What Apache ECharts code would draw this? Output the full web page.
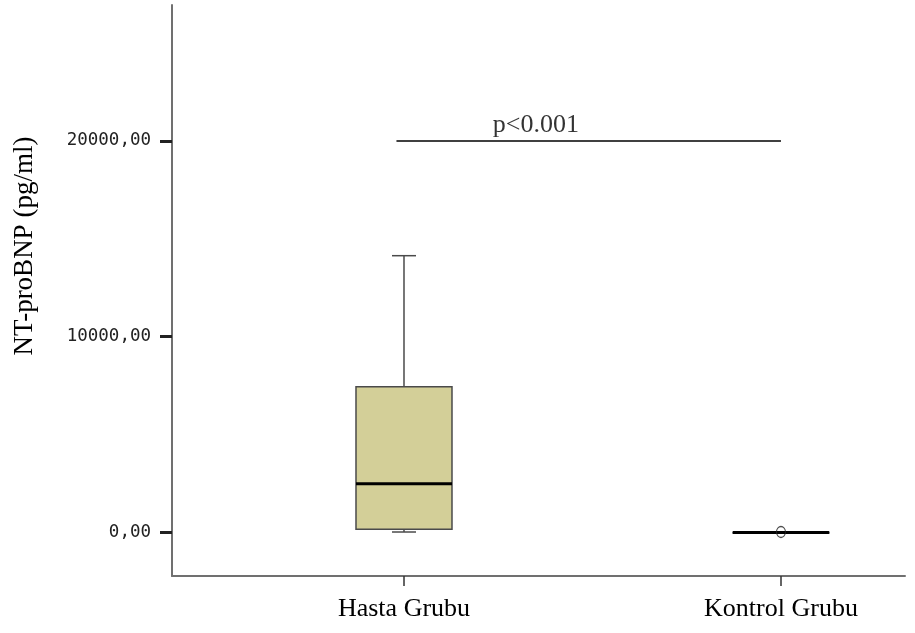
<!DOCTYPE html>
<html>
<head>
<meta charset="utf-8">
<script src="https://cdn.jsdelivr.net/npm/echarts@6/dist/echarts.min.js"></script>
<style>
  html, body { margin: 0; padding: 0; background: #fff; }
  #chart { width: 915px; height: 633px; }
</style>
</head>
<body>
<div id="chart"></div>
<script>
// groups on the x axis (positions 1 and 2)
const categories = ['Hasta Grubu', 'Kontrol Grubu'];
const groupPos = [1, 2];
// [min, Q1, median, Q3, max] per group
const boxStats = [
  [0, 140, 2470, 7430, 14130],
  [-60, -50, -30, -10, 0]
];
// outliers: [group position, value]
const outliers = [[2, 0]];
// significance bar
const pText = 'p<0.001';
const pBar = [[0.98, 20000], [2, 20000]];
const pTextAt = [1.35, 20000];
const yTicks = [0, 10000, 20000];

const chart = echarts.init(document.getElementById('chart'), null, { renderer: 'canvas' });

const boxData = boxStats.map((s, i) => [groupPos[i]].concat(s));

const option = {
  animation: false,
  backgroundColor: '#fff',
  grid: { left: 172, right: 10, top: 5, bottom: 57, containLabel: false },
  xAxis: {
    type: 'value',
    min: 0.3846,
    max: 2.329,
    splitLine: { show: false },
    axisLine: { onZero: false, lineStyle: { color: '#707070', width: 2 } },
    axisTick: {
      customValues: groupPos,
      length: 10,
      lineStyle: { color: '#333', width: 1.5 }
    },
    axisLabel: {
      customValues: groupPos,
      formatter: v => categories[groupPos.indexOf(v)] || '',
      margin: 20,
      color: '#000',
      fontFamily: 'Liberation Serif',
      fontSize: 26
    }
  },
  yAxis: {
    type: 'value',
    min: -2250,
    max: 26950,
    splitLine: { show: false },
    axisLine: { show: true, onZero: false, lineStyle: { color: '#707070', width: 2 } },
    axisTick: {
      customValues: yTicks,
      length: 12,
      lineStyle: { color: '#222', width: 3 }
    },
    axisLabel: {
      customValues: yTicks,
      formatter: v => v.toFixed(2).replace('.', ','),
      margin: 21,
      color: '#222',
      fontFamily: 'DejaVu Sans Mono',
      fontSize: 17.5
    }
  },
  graphic: [{
    type: 'text',
    x: 25,
    y: 246,
    rotation: Math.PI / 2,
    style: {
      text: 'NT-proBNP (pg/ml)',
      font: '27px "Liberation Serif"',
      fill: '#000',
      align: 'center',
      verticalAlign: 'middle'
    }
  }],
  series: [
    {
      type: 'custom',
      data: boxData,
      encode: { x: 0, y: [1, 2, 3, 4, 5] },
      z: 2,
      renderItem: (params, api) => {
        const x = api.value(0);
        const lo = api.coord([x, api.value(1)]);
        const q1 = api.coord([x, api.value(2)]);
        const med = api.coord([x, api.value(3)]);
        const q3 = api.coord([x, api.value(4)]);
        const hi = api.coord([x, api.value(5)]);
        const half = 48, cap = 12;
        const cx = lo[0];
        const edge = { stroke: '#4a4a4a', lineWidth: 1.5 };
        return {
          type: 'group',
          children: [
            { type: 'line', shape: { x1: cx, y1: hi[1], x2: cx, y2: q3[1] }, style: edge },
            { type: 'line', shape: { x1: cx - cap, y1: hi[1], x2: cx + cap, y2: hi[1] }, style: edge },
            { type: 'line', shape: { x1: cx, y1: lo[1], x2: cx, y2: q1[1] }, style: edge },
            { type: 'line', shape: { x1: cx - cap, y1: lo[1], x2: cx + cap, y2: lo[1] }, style: edge },
            {
              type: 'rect',
              shape: { x: cx - half, y: q3[1], width: half * 2, height: q1[1] - q3[1] },
              style: { fill: '#d3cf98', stroke: '#4a4a4a', lineWidth: 1.5 }
            },
            { type: 'line', shape: { x1: cx - half, y1: med[1], x2: cx + half, y2: med[1] }, style: { stroke: '#000', lineWidth: 3 } }
          ]
        };
      }
    },
    {
      type: 'scatter',
      data: outliers,
      symbol: 'circle',
      symbolSize: [9, 11],
      z: 5,
      itemStyle: { color: 'rgba(255,255,255,0)', borderColor: '#222', borderWidth: 1.2 }
    },
    {
      type: 'line',
      data: pBar,
      symbol: 'none',
      lineStyle: { color: '#000', width: 1.5 }
    },
    {
      type: 'scatter',
      data: [pTextAt],
      symbolSize: 0,
      label: {
        show: true,
        position: 'top',
        distance: 3,
        formatter: pText,
        color: '#000',
        fontFamily: 'Liberation Serif',
        fontSize: 26
      }
    }
  ]
};

chart.setOption(option);
</script>
</body>
</html>
